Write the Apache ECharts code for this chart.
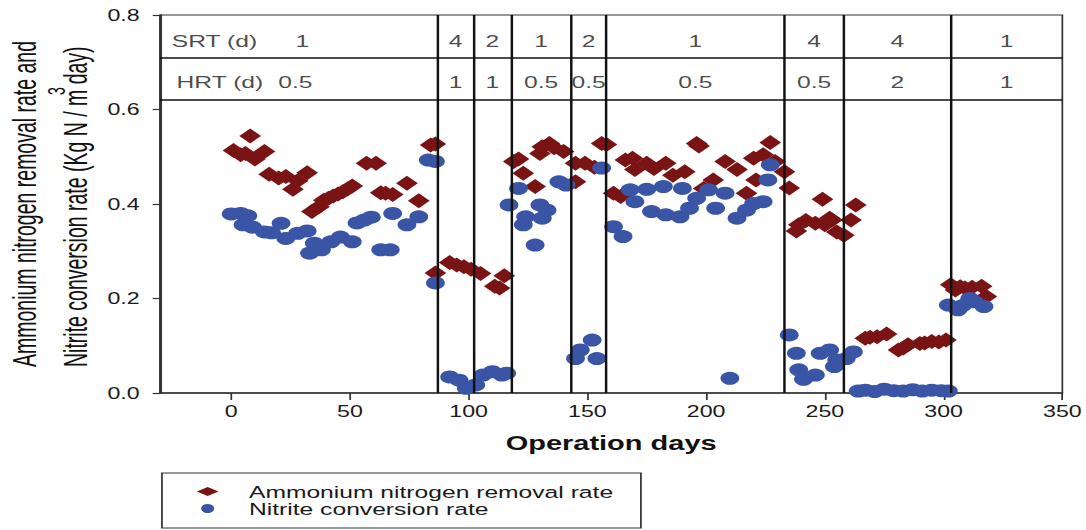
<!DOCTYPE html>
<html>
<head>
<meta charset="utf-8">
<script src="https://cdn.jsdelivr.net/npm/echarts@6/dist/echarts.min.js"></script>
<style>
  html, body { margin: 0; padding: 0; background: #fff; overflow: hidden; }
  /* the figure is laid out narrow and widened horizontally, like the original export */
  #chart { width: 749px; height: 530px; transform: scaleX(1.45); transform-origin: 0 0; }
</style>
</head>
<body>
<div id="chart"></div>
<script>
// Ammonium nitrogen removal rate [operation day, kg N / m3 day]
const ammoniumRemoval = [
  [1, 0.513], [4, 0.504], [6, 0.507], [8, 0.544], [10, 0.495], [14, 0.511], [16, 0.463], [20, 0.455],
  [23, 0.458], [26, 0.431], [28, 0.449], [32, 0.466], [34, 0.384], [37, 0.394], [39, 0.408], [41, 0.412],
  [43, 0.417], [45, 0.421], [47, 0.426], [49, 0.432], [51, 0.438], [57, 0.486], [61, 0.486], [63, 0.424],
  [65, 0.423], [68, 0.420], [74, 0.444], [79, 0.407], [84, 0.525], [86, 0.527], [86, 0.254], [92, 0.276],
  [95, 0.271], [98, 0.267], [101, 0.262], [105, 0.253], [111, 0.226], [113, 0.222], [115, 0.248],
  [119, 0.490], [121, 0.495], [123, 0.465], [128, 0.437], [130, 0.507], [131, 0.521], [134, 0.528],
  [136, 0.519], [140, 0.511], [145, 0.447], [145, 0.486], [149, 0.486], [153, 0.478], [156, 0.528],
  [158, 0.526], [161, 0.423], [164, 0.416], [166, 0.493], [169, 0.497], [170, 0.473], [175, 0.486],
  [178, 0.475], [183, 0.486], [186, 0.461], [191, 0.468], [196, 0.528], [197, 0.523], [199, 0.433],
  [203, 0.451], [208, 0.490], [213, 0.473], [217, 0.423], [220, 0.497], [221, 0.451], [224, 0.504],
  [227, 0.530], [229, 0.490], [233, 0.468], [235, 0.434], [238, 0.343], [239, 0.356], [242, 0.365],
  [246, 0.359], [249, 0.410], [250, 0.356], [252, 0.370], [253, 0.366], [255, 0.341], [258, 0.334],
  [261, 0.366], [263, 0.398], [267, 0.116], [269, 0.118], [272, 0.119], [276, 0.125], [281, 0.091],
  [283, 0.095], [285, 0.102], [290, 0.105], [292, 0.106], [295, 0.109], [298, 0.108], [301, 0.112],
  [303, 0.229], [305, 0.218], [307, 0.225], [309, 0.222], [312, 0.224], [316, 0.226], [318, 0.204]
];

// Nitrite conversion rate [operation day, kg N / m3 day]
const nitriteConversion = [
  [0, 0.379], [4, 0.380], [5, 0.356], [7, 0.375], [9, 0.351], [14, 0.341], [17, 0.339], [21, 0.359],
  [23, 0.327], [28, 0.338], [32, 0.343], [33, 0.296], [35, 0.317], [38, 0.303], [42, 0.320], [46, 0.330],
  [51, 0.320], [53, 0.360], [56, 0.366], [59, 0.372], [63, 0.303], [67, 0.303], [68, 0.380], [74, 0.356],
  [79, 0.373], [83, 0.493], [86, 0.490], [86, 0.233], [92, 0.034], [96, 0.027], [99, 0.010], [103, 0.017],
  [106, 0.038], [110, 0.045], [114, 0.038], [116, 0.042], [117, 0.398], [121, 0.433], [123, 0.356],
  [124, 0.373], [128, 0.313], [130, 0.398], [131, 0.370], [133, 0.387], [138, 0.447], [141, 0.440],
  [145, 0.073], [147, 0.091], [152, 0.112], [154, 0.073], [156, 0.476], [161, 0.352], [165, 0.331],
  [168, 0.430], [170, 0.405], [175, 0.431], [177, 0.384], [182, 0.437], [183, 0.377], [189, 0.373],
  [190, 0.433], [193, 0.391], [196, 0.412], [201, 0.430], [204, 0.391], [208, 0.423], [210, 0.031],
  [213, 0.370], [217, 0.387], [220, 0.401], [224, 0.405], [226, 0.451], [227, 0.483], [235, 0.123],
  [238, 0.084], [239, 0.049], [241, 0.029], [246, 0.038], [248, 0.084], [252, 0.091], [254, 0.056],
  [255, 0.070], [259, 0.073], [262, 0.087], [264, 0.004], [267, 0.006], [271, 0.003], [275, 0.008],
  [279, 0.005], [283, 0.004], [287, 0.007], [291, 0.004], [295, 0.006], [299, 0.005], [302, 0.004],
  [302, 0.186], [306, 0.176], [308, 0.185], [311, 0.200], [313, 0.193], [317, 0.183]
];

// Operating phases: day boundaries, sludge and hydraulic retention times (d)
const phaseBounds = [0, 87, 102, 118, 143, 158, 233, 258, 303, 350];
const srtValues = ['1', '4', '2', '1', '2', '1', '4', '4', '1'];
const hrtValues = ['0.5', '1', '1', '0.5', '0.5', '0.5', '0.5', '2', '1'];

// Axis ticks
const xTicks = [0, 50, 100, 150, 200, 250, 300, 350];

const seriesNames = ['Ammonium nitrogen removal rate', 'Nitrite conversion rate'];

// table layout inside the plot (value units)
const SRT_ROW = 0.746, HRT_ROW = 0.658;
const TABLE_LINES = [0.711, 0.622];
const TEXT = '#1a1a1a';
const FONT = 'Liberation Sans';

const tableCells = [];
tableCells.push({ value: [-25, SRT_ROW, 'SRT (d)'], label: { align: 'left' } });
tableCells.push({ value: [-23, HRT_ROW, 'HRT (d)'], label: { align: 'left' } });
for (let i = 0; i < srtValues.length; i++) {
  const mid = (phaseBounds[i] + phaseBounds[i + 1]) / 2;
  tableCells.push({ value: [i === 0 ? 30 : mid, SRT_ROW, srtValues[i]] });
  tableCells.push({ value: [i === 0 ? 27 : mid, HRT_ROW, hrtValues[i]] });
}

const dividers = phaseBounds.slice(1, -1).map(d => ({ xAxis: d }))
  .concat(TABLE_LINES.map(v => ({ yAxis: v, lineStyle: { width: 1.6 } })));

const titleStyle = {
  fontSize: 19.5, fontFamily: FONT, fill: '#111',
  align: 'left', verticalAlign: 'middle', textAlign: 'left', textVerticalAlign: 'middle'
};

const chart = echarts.init(document.getElementById('chart'), null, { renderer: 'svg' });
chart.setOption({
  animation: false,
  backgroundColor: '#fff',
  textStyle: { fontFamily: FONT },
  grid: {
    left: 110.3, right: 15.9, top: 15, bottom: 137,
    show: true, borderColor: '#333', borderWidth: 1.2, backgroundColor: 'transparent'
  },
  xAxis: {
    type: 'value', min: -30, max: 350,
    name: 'Operation days', nameLocation: 'middle', nameGap: 40,
    nameTextStyle: { fontSize: 20, fontWeight: 'bold', color: '#111', fontFamily: FONT },
    axisLine: { onZero: false, lineStyle: { color: '#333', width: 1.5 } },
    axisTick: { show: true, length: 7, customValues: xTicks, lineStyle: { color: '#333', width: 1.2 } },
    axisLabel: { customValues: xTicks, fontSize: 16, margin: 10, color: TEXT, fontFamily: FONT },
    splitLine: { show: false }
  },
  yAxis: {
    type: 'value', min: 0, max: 0.8, interval: 0.2,
    axisLine: { show: true, onZero: false, lineStyle: { color: '#333', width: 1.5 } },
    axisTick: { show: true, length: 5, lineStyle: { color: '#333', width: 1.2 } },
    axisLabel: { fontSize: 16, margin: 14, color: TEXT, fontFamily: FONT, formatter: v => v.toFixed(1) },
    splitLine: { show: false }
  },
  legend: {
    data: seriesNames,
    orient: 'vertical',
    left: 111.7, top: 473, height: 37,
    padding: [10, 19, 11, 24],
    itemWidth: 15, itemHeight: 9, itemGap: 0,
    symbolKeepAspect: false,
    borderColor: '#333', borderWidth: 1.2,
    textStyle: { fontSize: 17, lineHeight: 15, color: TEXT, fontFamily: FONT, padding: [0, 0, 0, 16] }
  },
  graphic: [
    {
      type: 'text', x: 16.6, y: 367, rotation: Math.PI / 2, scaleY: 1.2,
      style: Object.assign({ text: 'Ammonium nitrogen removal rate and' }, titleStyle)
    },
    {
      type: 'text', x: 51.7, y: 367, rotation: Math.PI / 2, scaleY: 1.2,
      style: Object.assign({ text: 'Nitrite conversion rate (Kg N / m day)' }, titleStyle)
    },
    {
      type: 'text', x: 39, y: 91, rotation: Math.PI / 2, scaleY: 1.2,
      style: {
        text: '3', fontSize: 14, fontFamily: FONT, fill: '#111',
        align: 'center', verticalAlign: 'middle', textAlign: 'center', textVerticalAlign: 'middle'
      }
    }
  ],
  series: [
    {
      name: seriesNames[0], type: 'scatter', data: ammoniumRemoval,
      symbol: 'diamond', symbolSize: 15,
      itemStyle: { color: '#7a1414', opacity: 1 }, z: 2
    },
    {
      name: seriesNames[1], type: 'scatter', data: nitriteConversion,
      symbol: 'circle', symbolSize: 13,
      itemStyle: { color: '#3a54a6', opacity: 1 }, z: 3
    },
    {
      name: 'phase table', type: 'scatter', data: tableCells,
      symbolSize: 0, silent: true, z: 4,
      label: {
        show: true, position: 'inside', formatter: p => p.value[2],
        fontSize: 17, color: TEXT, fontFamily: FONT
      },
      markLine: {
        silent: true, symbol: ['none', 'none'], label: { show: false },
        lineStyle: { color: '#111', width: 1.7, type: 'solid' },
        emphasis: { disabled: true },
        data: dividers
      }
    }
  ]
});
</script>
</body>
</html>
